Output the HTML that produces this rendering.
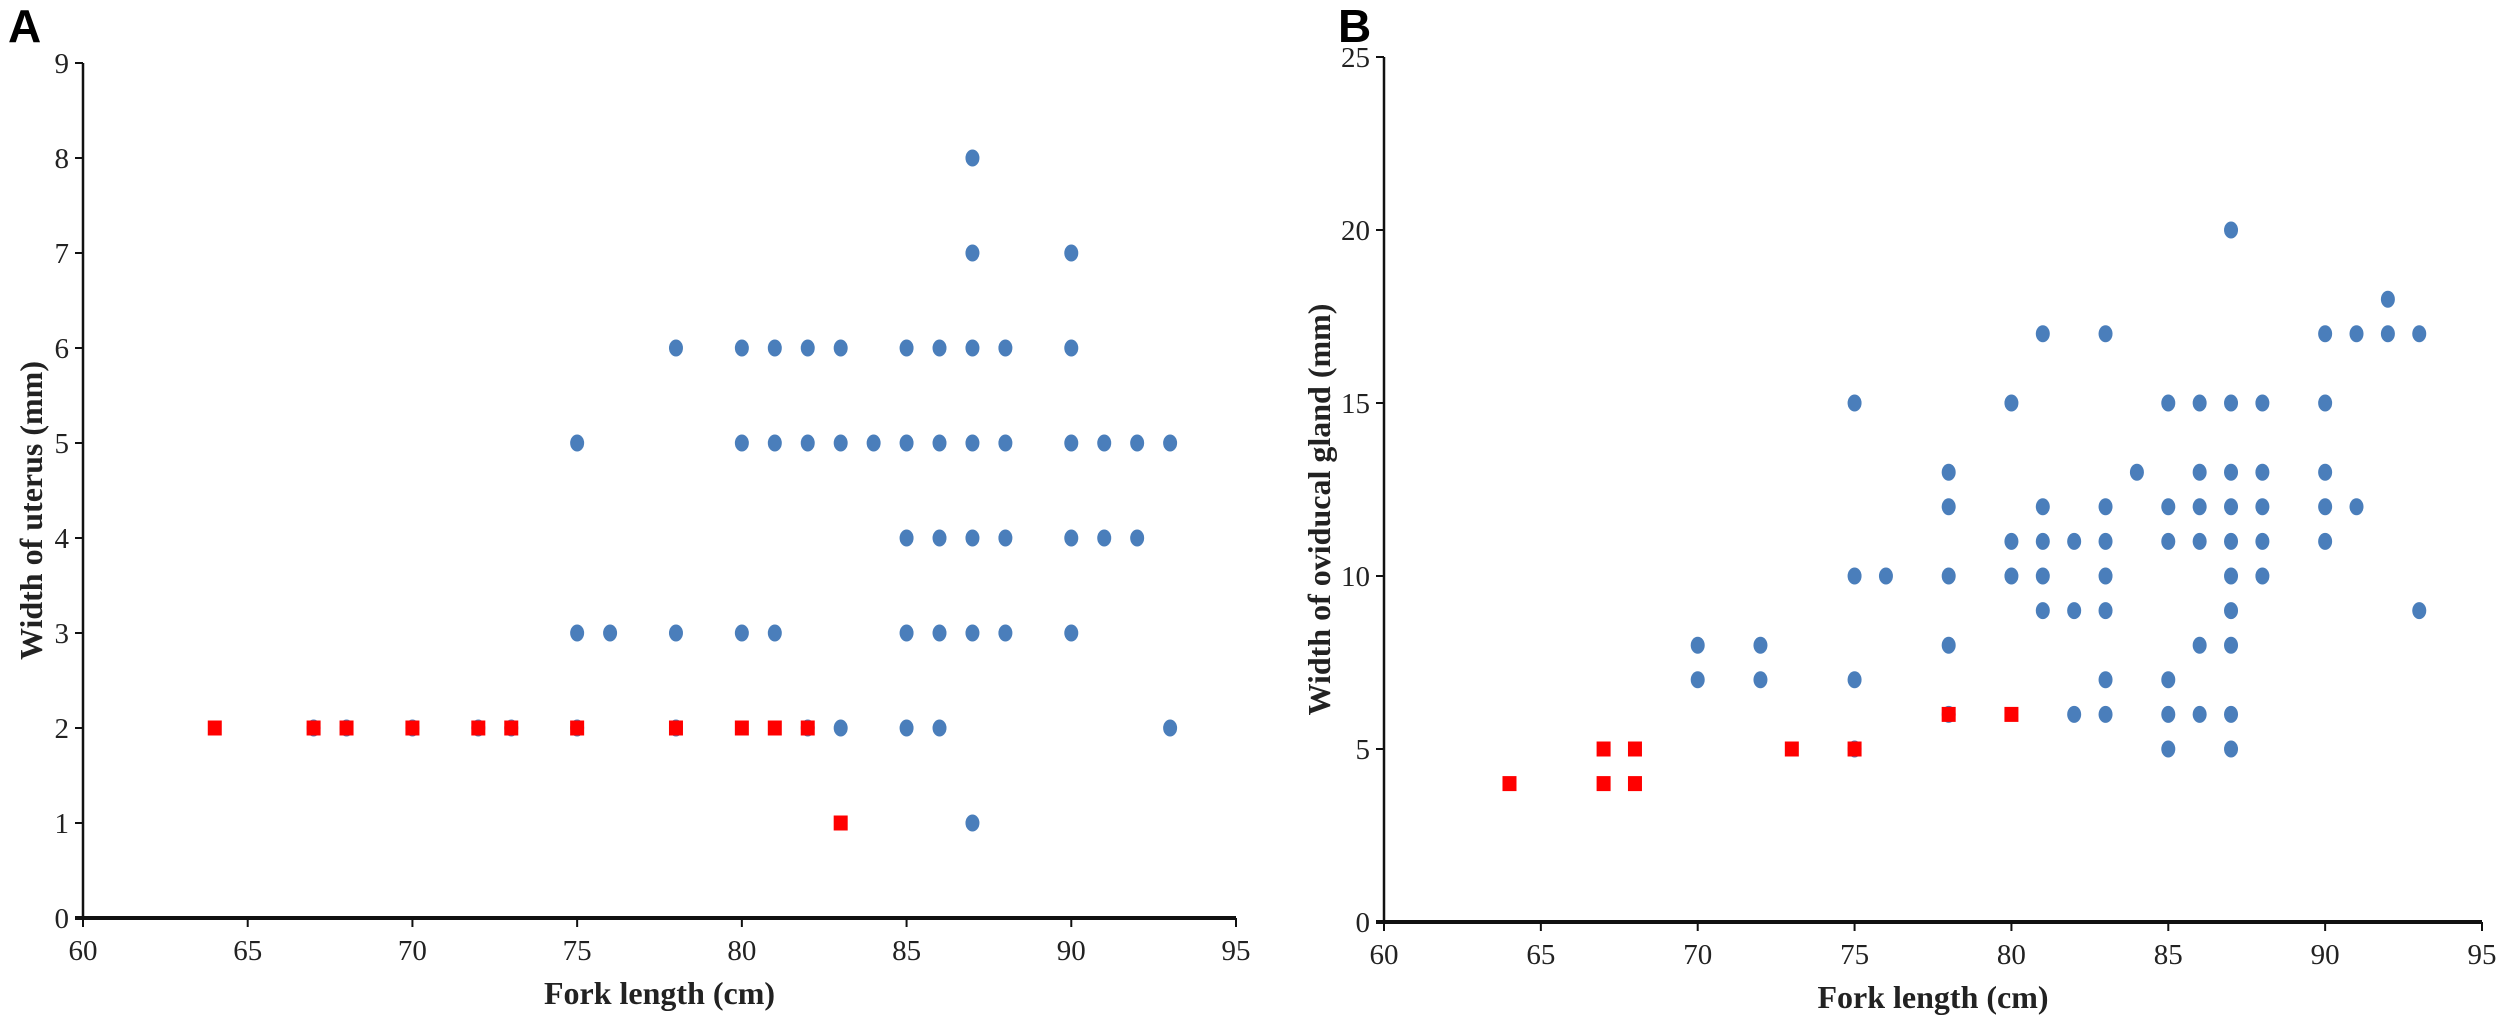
<!DOCTYPE html>
<html><head><meta charset="utf-8"><style>
html,body{margin:0;padding:0;background:#fff;}
svg{display:block;}
text{font-family:"Liberation Serif",serif;fill:#222;}
</style></head><body>
<svg id="c" width="2500" height="1027" viewBox="0 0 2500 1027" xmlns="http://www.w3.org/2000/svg">
<text x="8" y="42" style="font-family:'Liberation Sans',sans-serif;font-weight:bold;font-size:46px;fill:#000">A</text>
<text x="1338" y="42" style="font-family:'Liberation Sans',sans-serif;font-weight:bold;font-size:46px;fill:#000">B</text>
<g id="ga"></g>
<g id="gb"></g>
</svg>
<script>
const xTicks=[60,65,70,75,80,85,90,95];
const aYTicks=[0,1,2,3,4,5,6,7,8,9];
const bYTicks=[0,5,10,15,20,25];
// Chart A: width of uterus
const aBlueX=[87,87,90,78,80,81,82,83,85,86,87,88,90,75,80,81,82,83,84,85,86,87,88,90,91,92,93,85,86,87,88,90,91,92,75,76,78,80,81,85,86,87,88,90,67,68,70,72,73,75,78,82,83,85,86,93,87];
const aBlueY=[8,7,7,6,6,6,6,6,6,6,6,6,6,5,5,5,5,5,5,5,5,5,5,5,5,5,5,4,4,4,4,4,4,4,3,3,3,3,3,3,3,3,3,3,2,2,2,2,2,2,2,2,2,2,2,2,1];
const aRedX=[64,67,68,70,72,73,75,78,80,81,82,83];
const aRedY=[2,2,2,2,2,2,2,2,2,2,2,1];
// Chart B: width of oviducal gland
const bBlueX=[87,92,81,83,90,91,92,93,75,80,85,86,87,88,90,78,84,86,87,88,90,78,81,83,85,86,87,88,90,91,80,81,82,83,85,86,87,88,90,75,76,78,80,81,83,87,88,81,82,83,87,93,70,72,78,86,87,70,72,75,83,85,78,82,83,85,86,87,75,85,87];
const bBlueY=[20,18,17,17,17,17,17,17,15,15,15,15,15,15,15,13,13,13,13,13,13,12,12,12,12,12,12,12,12,12,11,11,11,11,11,11,11,11,11,10,10,10,10,10,10,10,10,9,9,9,9,9,8,8,8,8,8,7,7,7,7,7,6,6,6,6,6,6,5,5,5];
const bRedX=[64,67,67,68,68,73,75,78,80];
const bRedY=[4,5,4,5,4,5,5,6,6];

const NS="http://www.w3.org/2000/svg";
function mk(tag,attrs,parent){const e=document.createElementNS(NS,tag);for(const k in attrs)e.setAttribute(k,attrs[k]);parent.appendChild(e);return e;}

function draw(g,cfg){
  const sx=v=>cfg.x0+(v-60)/35*(cfg.x1-cfg.x0);
  const sy=v=>cfg.y0-(v/cfg.ymax)*(cfg.y0-cfg.y1);
  let e=mk('line',{x1:cfg.x0,y1:sy(cfg.ymax),x2:cfg.x0,y2:cfg.y0,stroke:'#111','stroke-width':2.5},g);
  
  
  e=mk('line',{x1:cfg.x0-8,y1:cfg.y0,x2:cfg.x1,y2:cfg.y0,stroke:'#111','stroke-width':4},g);
  
  
  cfg.yt.forEach(v=>{
    const y=sy(v);
    let t=mk('line',{x1:cfg.x0-8,y1:y,x2:cfg.x0,y2:y,stroke:'#111','stroke-width':2},g);
    
    
    const l=mk('text',{x:cfg.x0-14,y:y+10,'text-anchor':'end','font-size':29},g);
    l.textContent=v;
    
    
  });
  xTicks.forEach(v=>{
    const x=sx(v);
    let t=mk('line',{x1:x,y1:cfg.y0,x2:x,y2:cfg.y0+9,stroke:'#111','stroke-width':2},g);
    
    
    const l=mk('text',{x:x,y:cfg.y0+42,'text-anchor':'middle','font-size':29},g);
    l.textContent=v;
    
    
  });
  let xt=mk('text',{x:(cfg.x0+cfg.x1)/2,y:cfg.y0+86,'text-anchor':'middle','font-size':32,'font-weight':'bold'},g);
  xt.textContent='Fork length (cm)';
  
  
  let yt=mk('text',{x:0,y:0,'text-anchor':'middle','font-size':32,'font-weight':'bold',transform:`translate(${cfg.ytx},${(cfg.y0+sy(cfg.ymax))/2+20}) rotate(-90)`},g);
  yt.textContent=cfg.ytitle;
  
  
  cfg.bx.forEach((v,i)=>{
    const c=mk('ellipse',{cx:sx(v),cy:sy(cfg.by[i]),rx:7,ry:8.5,fill:'#4a7ebb'},g);
    
    
  });
  cfg.rx.forEach((v,i)=>{
    const r=mk('rect',{x:sx(v)-7,y:sy(cfg.ry[i])-7.5,width:14,height:15,fill:'#ff0000'},g);
    
    
  });
}
draw(document.getElementById('ga'),{x0:83,x1:1236,y0:918,y1:63,ymax:9,yt:aYTicks,ytx:42,ytitle:'Width of uterus (mm)',bx:aBlueX,by:aBlueY,rx:aRedX,ry:aRedY});
draw(document.getElementById('gb'),{x0:1384,x1:2482,y0:922,y1:57,ymax:25,yt:bYTicks,ytx:1330,ytitle:'Width of oviducal gland (mm)',bx:bBlueX,by:bBlueY,rx:bRedX,ry:bRedY});
</script>
</body></html>
